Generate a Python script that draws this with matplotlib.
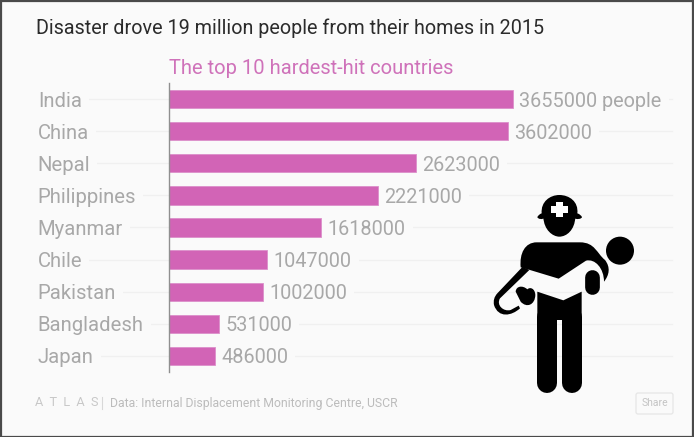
import matplotlib
matplotlib.use('Agg')
import matplotlib.pyplot as plt
from matplotlib.patches import Circle, FancyBboxPatch, PathPatch, Rectangle
from matplotlib.path import Path

countries = ['India', 'China', 'Nepal', 'Philippines', 'Myanmar', 'Chile',
             'Pakistan', 'Bangladesh', 'Japan']
people = [3655000, 3602000, 2623000, 2221000, 1618000, 1047000, 1002000,
          531000, 486000]

W, H = 694, 437
BG = '#fafafa'
BAR = '#d264b6'
GRID = '#f0f0f0'
GREY = '#a8a8a8'

plt.rcParams['font.family'] = ['Roboto', 'DejaVu Sans']

fig = plt.figure(figsize=(W / 100, H / 100), dpi=100, facecolor=BG)

# capa de fondo en pixeles, para marco, textos y el icono
bg = fig.add_axes([0, 0, 1, 1], zorder=3)
bg.set_xlim(0, W)
bg.set_ylim(H, 0)
bg.axis('off')
bg.patch.set_alpha(0)

# grafico principal
left, right, top, bottom = 168.8, 672, 83, 372
ax = fig.add_axes([left / W, 1 - bottom / H, (right - left) / W, (bottom - top) / H],
                  zorder=2)
ax.patch.set_alpha(0)
ypos = list(range(len(countries)))
ax.set_xlim(0, 5345000)
ax.set_ylim(8.5, -0.5)
for s in ['top', 'right', 'bottom']:
    ax.spines[s].set_visible(False)
ax.spines['left'].set_color('#8f8f8f')
ax.spines['left'].set_linewidth(1)
ax.spines['left'].set_zorder(5)
ax.set_xticks([])
ax.set_yticks([])

# lineas guia, tapadas por el fondo de cada etiqueta
for y in ypos:
    ax.plot([-1045000, 5345000], [y, y], color=GRID, lw=1, zorder=1, clip_on=False)

ax.barh(ypos, people, height=0.57, color=BAR, edgecolor='#dc8fca', linewidth=0.6, zorder=3)

pad = dict(facecolor=BG, edgecolor='none', pad=5)
for y, name, val in zip(ypos, countries, people):
    ax.annotate(name, (0, y), xytext=(-131, 0), textcoords='offset pixels',
                ha='left', va='center_baseline', fontsize=14.6, color=GREY,
                bbox=pad, zorder=2, annotation_clip=False)
    txt = str(val) + (' people' if y == 0 else '')
    ax.annotate(txt, (val, y), xytext=(6.5, 0), textcoords='offset pixels',
                ha='left', va='center_baseline', fontsize=14.3, color=GREY,
                bbox=pad, zorder=2)

bg.text(36, 28, 'Disaster drove 19 million people from their homes in 2015',
        fontsize=14.25, color='#2b2b2b', ha='left', va='center')
bg.text(169, 68, 'The top 10 hardest-hit countries', fontsize=14.5, color='#cf72ba',
        ha='left', va='center')

# pie de pagina
bg.text(35, 403, 'A  T  L  A  S', fontsize=9.2, color='#c8c8c8',
        ha='left', va='center')
bg.plot([102.5, 102.5], [397, 409], color='#d8d8d8', lw=0.8)
bg.text(110, 404, 'Data: Internal Displacement Monitoring Centre, USCR', fontsize=8.8,
        color='#bcbcbc', ha='left', va='center')
bg.add_patch(FancyBboxPatch((636, 393), 37, 21, boxstyle='round,pad=0,rounding_size=2',
                            fc=BG, ec='#e6e6e6', lw=0.9))
bg.text(654.5, 403.5, 'Share', fontsize=7.5, color='#c4c4c4', ha='center', va='center')

# marco de la captura
bg.add_patch(Rectangle((0.5, 0.5), W - 1, H - 1, fill=False, ec='#4a4a4a', lw=1.6))


# icono del rescatista, coordenadas de dibujo en su propia rejilla
def z(x, y):
    return 480 + x / 3, 180 + y / 3


def forma(pts, color='black', zorder=6):
    verts, codes = [], []
    for code, p in pts:
        verts.append(z(*p))
        codes.append(code)
    bg.add_patch(PathPatch(Path(verts, codes), fc=color, ec='none', zorder=zorder))


M, L, C3, C4, CL = Path.MOVETO, Path.LINETO, Path.CURVE3, Path.CURVE4, Path.CLOSEPOLY

# casco y cabeza
forma([(M, (172, 112)), (C3, (174, 104)), (L, (185, 100)),
       (C4, (182, 65)), (C4, (210, 45)), (L, (238, 45)),
       (C4, (268, 45)), (C4, (296, 65)), (L, (292, 100)),
       (C3, (304, 104)), (L, (306, 112)), (C3, (300, 120)), (L, (285, 116)),
       (L, (190, 116)), (C3, (178, 120)), (L, (172, 112)), (CL, (172, 112))])
forma([(M, (190, 112)), (C4, (192, 150)), (C4, (218, 170)), (L, (238, 170)),
       (C4, (260, 170)), (C4, (284, 150)), (L, (286, 112)), (CL, (286, 112))])
bg.add_patch(Rectangle(z(227, 65), 23 / 3, 47 / 3, fc='white', ec='none', zorder=7))
bg.add_patch(Rectangle(z(214, 77), 50 / 3, 22 / 3, fc='white', ec='none', zorder=7))

# torso y brazo que sujeta
forma([(M, (122, 262)), (C4, (118, 220)), (C4, (135, 187)), (L, (170, 187)),
       (L, (300, 187)), (C4, (345, 187)), (C4, (350, 220)), (L, (375, 240)),
       (C4, (392, 262)), (C4, (388, 285)), (L, (372, 305)),
       (C4, (372, 265)), (C4, (345, 235)), (L, (318, 242)),
       (L, (236, 296)), (L, (150, 270)), (L, (122, 262)), (CL, (122, 262))])
forma([(M, (128, 260)), (L, (148, 270)), (L, (60, 355)),
       (C4, (48, 375)), (C4, (70, 396)), (L, (92, 390)),
       (L, (116, 377)), (L, (120, 385)),
       (C4, (95, 408)), (C4, (55, 415)), (L, (42, 375)),
       (C3, (38, 355)), (L, (52, 340)), (CL, (52, 340))])

# cadera y piernas
forma([(M, (172, 335)), (L, (250, 361)), (L, (305, 335)), (L, (305, 420)),
       (L, (172, 420)), (CL, (172, 420))])
bg.plot(*zip(z(202, 410), z(202, 610)), color='black', lw=14.4, solid_capstyle='round', zorder=6)
bg.plot(*zip(z(276, 410), z(276, 610)), color='black', lw=14.4, solid_capstyle='round', zorder=6)

# manos
bg.plot(*zip(z(335, 292), z(335, 322)), color='black', lw=10.6, solid_capstyle='round', zorder=6)
forma([(M, (107, 335)), (C4, (108, 318)), (C4, (128, 315)), (L, (142, 328)),
       (C4, (150, 320)), (C4, (165, 325)), (L, (166, 345)),
       (C4, (165, 375)), (C4, (140, 385)), (L, (122, 365)), (CL, (122, 365))])
cx, cy = z(420, 212)
bg.add_patch(Circle((cx, cy), 14, fc='black', ec='none', zorder=6))

fig.savefig('out.png', dpi=100, facecolor=BG)
